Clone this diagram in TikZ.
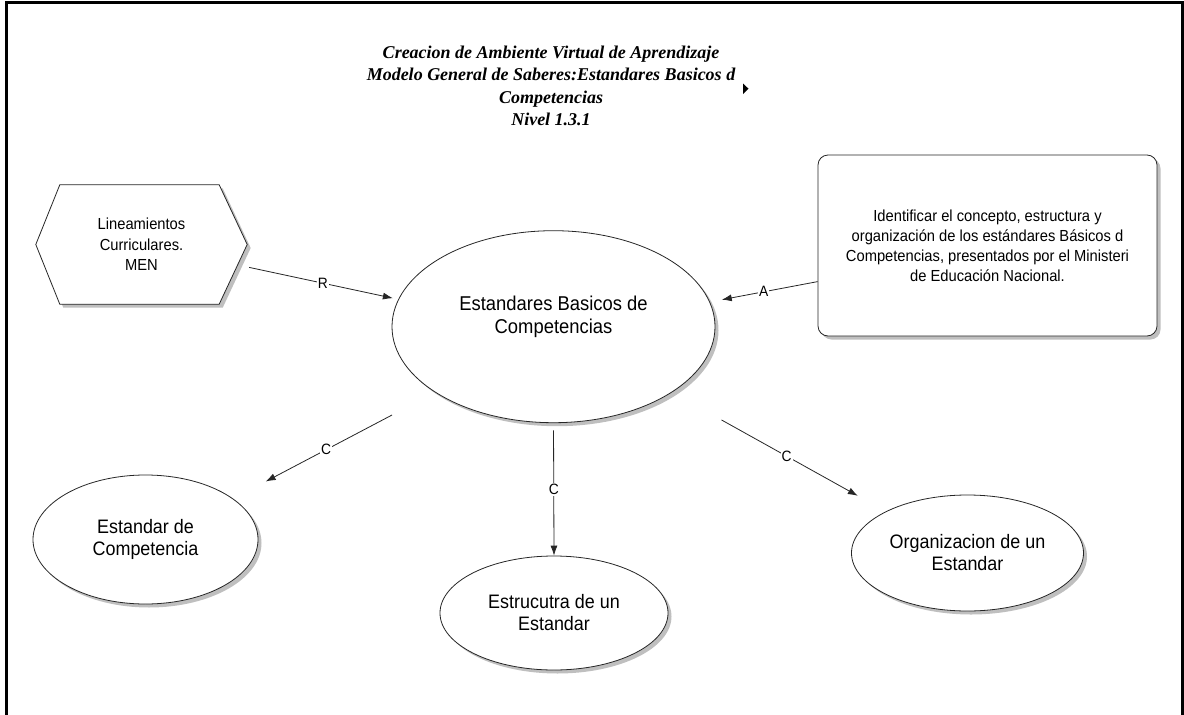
\documentclass[tikz,border=0pt]{standalone}
\usepackage{fontspec}
\setmainfont{Liberation Serif}
\newfontfamily\diafont{Liberation Sans}[FakeStretch=0.92]
\usetikzlibrary{arrows.meta,shapes.geometric,shadows,backgrounds}

\tikzset{
  shapeline/.style={draw=black!85, line width=0.8pt, fill=white},
  softshadow/.style={drop shadow={shadow xshift=3.5pt, shadow yshift=-3.5pt, fill=black, opacity=0.25}},
  oval/.style={ellipse, shapeline, softshadow, inner sep=0pt, align=center,
    font=\diafont\fontsize{19.5}{22}\selectfont},
  note/.style={rectangle, rounded corners=10pt, shapeline, softshadow, inner sep=0pt,
    align=center, font=\diafont\fontsize{16}{20}\selectfont},
  conn/.style={draw=black!85, line width=0.8pt, -{Latex[length=10pt,width=7pt]}},
  tag/.style={fill=white, inner sep=1pt, font=\diafont\fontsize{15}{15}\selectfont},
}

\begin{document}
\begin{tikzpicture}[x=1pt,y=-1pt]
\useasboundingbox (0,0) rectangle (1184,715);

% page frame
\draw[line width=2.2pt] (6.5,716) -- (6.5,2.5) -- (1182.5,2.5) -- (1182.5,716);

% heading
\node[font=\bfseries\itshape\fontsize{18}{22.5}\selectfont, align=center] (title) at (551,86)
  {Creacion de Ambiente Virtual de Aprendizaje\\
   Modelo General de Saberes:Estandares Basicos d\\
   Competencias\\
   Nivel 1.3.1};
\fill (743,83.5) -- (748.5,88.7) -- (743,94) -- cycle;

% central concept
\node[oval, minimum width=323pt, minimum height=192pt] (core) at (553.5,326.7) {};
\node[align=center, font=\diafont\fontsize{20}{23}\selectfont] (coretext)
  at ([yshift=10pt]core.center) {Estandares Basicos de\\Competencias};

% source (hexagon)
\node[inner sep=0pt, minimum width=211pt, minimum height=119pt, align=center,
  font=\diafont\fontsize{16}{20.5}\selectfont] (hex) at (141.5,244.5)
  {Lineamientos\\Curriculares.\\MEN};
\begin{scope}[on background layer]
  \draw[shapeline, softshadow]
    ([xshift=24pt]hex.north west) -- ([xshift=-28pt]hex.north east) -- (hex.east)
    -- ([xshift=-28pt]hex.south east) -- ([xshift=24pt]hex.south west) -- (hex.west) -- cycle;
\end{scope}

% activity box
\node[note, minimum width=339pt, minimum height=181pt] (goal) at (987.5,245.5)
  {Identificar el concepto, estructura y\\
   organización de los estándares Básicos d\\
   Competencias, presentados por el Ministeri\\
   de Educación Nacional.};

% components
\node[oval, minimum width=225pt, minimum height=129pt] (comp) at (145.5,539.5) {Estandar de\\Competencia};
\node[oval, minimum width=228pt, minimum height=114pt] (estr) at (554,613) {Estrucutra de un\\Estandar};
\node[oval, minimum width=232pt, minimum height=116pt] (org) at (967.5,553) {Organizacion de un\\Estandar};

% connectors
\draw[conn, shorten <=2pt, shorten >=5.5pt] (hex.-12) -- node[tag]{R} (core.170);
\draw[conn, shorten >=12pt] (goal.192) -- node[tag]{A} (core.9);
\draw[conn, shorten <=48.5pt, shorten >=36.7pt] (core.209) -- node[tag, pos=0.54]{C} (comp.25);
\draw[conn, shorten <=7.3pt] (core.south) -- node[tag]{C} (estr.north);
\draw[conn, shorten <=56.6pt, shorten >=32pt] (core.-29) -- node[tag, pos=0.536]{C} (org.153);
\end{tikzpicture}
\end{document}
